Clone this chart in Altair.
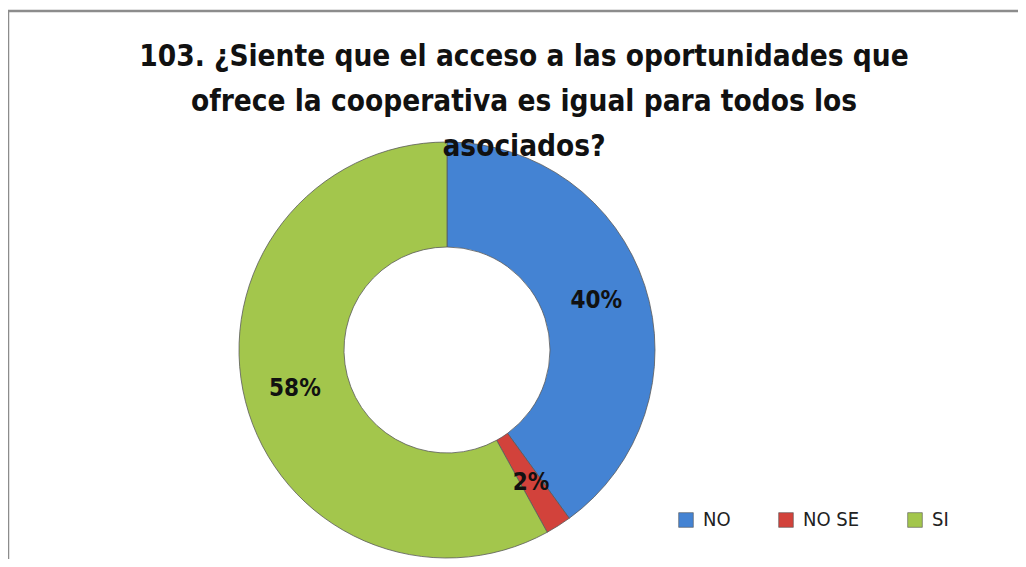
import altair as alt
import pandas as pd

categories = ["NO", "NO SE", "SI"]
values = [40, 2, 58]
labels = ["40%", "2%", "58%"]
colors = ["#4483D3", "#D2423B", "#A3C64C"]
title_lines = ["103. ¿Siente que el  acceso a las oportunidades que",
               "ofrece la cooperativa es igual para todos los",
               "asociados?"]

df = pd.DataFrame({"cat": categories, "val": values, "lab": labels, "order": [0, 1, 2]})

W, H = 1010, 551
CX, CY = 439, 342

base = alt.Chart(df).encode(
    theta=alt.Theta("val:Q", stack=True),
    order=alt.Order("order:Q"),
)

arcs = base.mark_arc(
    outerRadius=208, innerRadius=103, stroke="#5a5a5a", strokeWidth=0.8
).encode(
    x=alt.value(CX), y=alt.value(CY),
    color=alt.Color(
        "cat:N",
        scale=alt.Scale(domain=categories, range=colors),
        legend=alt.Legend(
            title=None, orient="none", direction="horizontal",
            legendX=668, legendY=502,
            symbolType="square", symbolSize=215, symbolStrokeColor="#555",
            symbolStrokeWidth=0.6,
            labelFont="DejaVu Sans Condensed", labelFontSize=20, labelColor="#222",
            columnPadding=45, labelOffset=7,
        ),
    ),
)

texts = base.mark_text(
    radius=157, font="DejaVu Sans Condensed", fontWeight="bold", fontSize=24, color="#111"
).encode(x=alt.value(CX), y=alt.value(CY), text="lab:N")

tdf = pd.DataFrame({"t": ["\n".join(title_lines)]})
title = alt.Chart(tdf).mark_text(
    font="DejaVu Sans Condensed", fontWeight="bold", fontSize=29.5, lineHeight=45,
    baseline="alphabetic", align="center", color="#111", lineBreak="\n",
).encode(x=alt.value(516), y=alt.value(58), text="t:N")

bdf = pd.DataFrame({"k": [1]})
top_border = alt.Chart(bdf).mark_rule(color="#8c8c8c", strokeWidth=2.5).encode(
    x=alt.value(0), x2=alt.value(W), y=alt.value(3))
left_border = alt.Chart(bdf).mark_rule(color="#8c8c8c", strokeWidth=2.5).encode(
    x=alt.value(0), y=alt.value(3), y2=alt.value(H))

chart = alt.layer(arcs, texts, title, top_border, left_border).properties(
    width=W, height=H, padding=0, autosize="none",
    background="white",
).configure_view(stroke=None)

chart.save("out.html", embed_options={"renderer": "svg", "actions": False})
